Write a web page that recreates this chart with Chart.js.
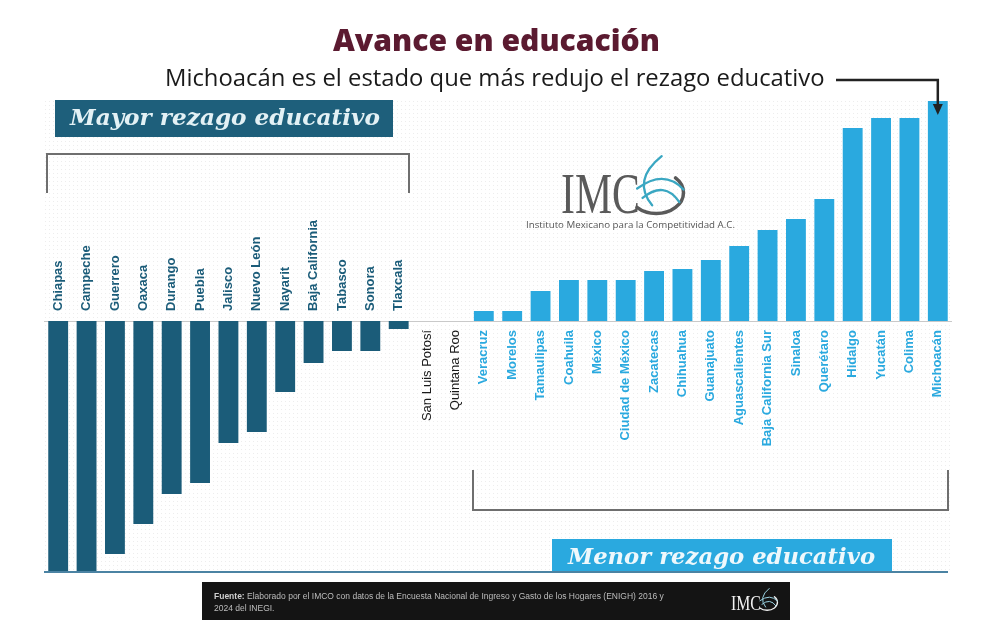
<!DOCTYPE html>
<html>
<head>
<meta charset="utf-8">
<script src="https://cdn.jsdelivr.net/npm/chart.js@4.4.1/dist/chart.umd.min.js"></script>
<style>
  html, body { margin: 0; padding: 0; background: #ffffff; }
  #wrap { width: 1006px; height: 620px; }
</style>
</head>
<body>
<div id="wrap"><canvas id="myChart" width="1006" height="620"></canvas></div>
<script>
// states ordered as in the graphic (left: more lag, right: less lag)
const states = [
  'Chiapas', 'Campeche', 'Guerrero', 'Oaxaca', 'Durango', 'Puebla', 'Jalisco',
  'Nuevo León', 'Nayarit', 'Baja California', 'Tabasco', 'Sonora', 'Tlaxcala',
  'San Luis Potosí', 'Quintana Roo',
  'Veracruz', 'Morelos', 'Tamaulipas', 'Coahuila', 'México', 'Ciudad de México',
  'Zacatecas', 'Chihuahua', 'Guanajuato', 'Aguascalientes', 'Baja California Sur',
  'Sinaloa', 'Querétaro', 'Hidalgo', 'Yucatán', 'Colima', 'Michoacán'
];

// relative change (no axis in the original)
const values = [
  -250, -250, -233, -203, -173, -162, -122,
  -111, -71, -42, -30, -30, -8,
  0, 0,
  10, 10, 30, 41, 41, 41,
  50, 52, 61, 75, 91,
  102, 122, 193, 203, 203, 220
];

const yMin = -250;
const yMax = 221;

const darkTeal = '#1b5c79';
const lightBlue = '#2aa9df';

const canvas = document.getElementById('myChart');
const ctx = canvas.getContext('2d');

function fitFont(c, text, style, family, width) {
    c.font = style + ' 100px ' + family;
    const w = c.measureText(text).width;
    return style + ' ' + (100 * width / w).toFixed(2) + 'px ' + family;
}

function drawLogo(c, x, y, h, textColor, swooshColor) {
    // "IMC" in a tall serif plus a swoosh "O"
    c.save();
    c.fillStyle = textColor;
    c.font = h + 'px "Liberation Serif"';
    c.textBaseline = 'alphabetic';
    c.textAlign = 'left';
    const w = c.measureText('IMC').width;
    const target = h * 1.36;
    c.translate(x, y);
    c.scale(target / w, 1);
    c.fillText('IMC', 0, 0);
    c.restore();

    const rx = h * 0.47;
    const ry = h * 0.36;
    const cx = x + target + rx * 0.6;
    const cy = y - h * 0.35;
    c.save();
    c.lineCap = 'round';
    // gray right/bottom part of the O
    c.strokeStyle = textColor;
    c.lineWidth = Math.max(1, h * 0.06);
    c.beginPath();
    c.ellipse(cx, cy, rx, ry, 0, -Math.PI * 0.25, Math.PI * 0.75);
    c.stroke();
    // teal swooshes
    c.strokeStyle = swooshColor;
    c.lineWidth = Math.max(1, h * 0.04);
    c.beginPath();
    c.moveTo(cx + rx * 0.2, cy - ry * 1.75);
    c.quadraticCurveTo(cx - rx * 0.9, cy - ry * 0.6, cx - rx * 0.15, cy + ry * 0.6);
    c.stroke();
    c.beginPath();
    c.moveTo(cx - rx * 0.7, cy - ry * 0.2);
    c.quadraticCurveTo(cx + rx * 0.3, cy - ry * 1.15, cx + rx * 1.0, cy - ry * 0.15);
    c.stroke();
    c.beginPath();
    c.moveTo(cx - rx * 0.5, cy + ry * 0.25);
    c.quadraticCurveTo(cx + rx * 0.3, cy - ry * 0.6, cx + rx * 0.85, cy + ry * 0.45);
    c.stroke();
    c.restore();
}

const decorations = {
    id: 'decorations',
    beforeDraw(chart) {
        const c = chart.ctx;
        const a = chart.chartArea;
        // faint dotted background
        const pc = document.createElement('canvas');
        pc.width = 4; pc.height = 4;
        const p = pc.getContext('2d');
        p.fillStyle = 'rgba(0,0,0,0.07)';
        p.fillRect(1, 1, 1, 1);
        c.save();
        c.fillStyle = c.createPattern(pc, 'repeat');
        c.fillRect(a.left, a.top, a.right - a.left - 2, a.bottom - a.top);
        c.restore();

        // zero line
        const y0 = chart.scales.y.getPixelForValue(0);
        c.save();
        c.strokeStyle = '#c9c9c9';
        c.lineWidth = 1;
        c.beginPath();
        c.moveTo(a.left, y0 + 0.5);
        c.lineTo(a.right, y0 + 0.5);
        c.stroke();
        c.restore();
    },
    afterDatasetsDraw(chart) {
        const c = chart.ctx;
        const a = chart.chartArea;
        const xs = chart.scales.x;
        const y0 = chart.scales.y.getPixelForValue(0);

        // state labels, rotated
        states.forEach((name, i) => {
            const v = values[i];
            const x = xs.getPixelForValue(i);
            c.save();
            c.translate(x, 0);
            c.rotate(-Math.PI / 2);
            c.textBaseline = 'middle';
            if (v < 0) {
                c.fillStyle = darkTeal;
                c.font = 'bold 13px "Liberation Sans"';
                c.textAlign = 'left';
                c.fillText(name, -(y0 - 10), 0);
            } else {
                c.fillStyle = v > 0 ? lightBlue : '#1a1a1a';
                c.font = (v > 0 ? 'bold ' : '') + '13px "Liberation Sans"';
                c.textAlign = 'right';
                c.fillText(name, -(y0 + 9), 0);
            }
            c.restore();
        });

        // baseline
        c.save();
        c.strokeStyle = '#4b83a3';
        c.lineWidth = 2;
        c.beginPath();
        c.moveTo(a.left, a.bottom + 1);
        c.lineTo(a.right - 4, a.bottom + 1);
        c.stroke();
        c.restore();

        // title and subtitle
        c.save();
        c.fillStyle = '#5b1a30';
        c.textAlign = 'left';
        c.textBaseline = 'alphabetic';
        c.font = fitFont(c, 'Avance en educación', '800', '"Open Sans"', 327);
        c.fillText('Avance en educación', 333, 51);
        c.fillStyle = '#1a1a1a';
        const sub = 'Michoacán es el estado que más redujo el rezago educativo';
        c.font = fitFont(c, sub, '400', '"Open Sans"', 660);
        c.fillText(sub, 165, 86);
        c.restore();

        // arrow to Michoacán
        const xm = xs.getPixelForValue(states.length - 1);
        c.save();
        c.strokeStyle = '#222222';
        c.fillStyle = '#222222';
        c.lineWidth = 2.5;
        c.beginPath();
        c.moveTo(836, 80);
        c.lineTo(xm, 80);
        c.lineTo(xm, 108);
        c.stroke();
        c.beginPath();
        c.moveTo(xm - 5, 104);
        c.lineTo(xm + 5, 104);
        c.lineTo(xm, 115);
        c.closePath();
        c.fill();
        c.restore();

        // "Mayor rezago educativo" box
        c.save();
        c.fillStyle = '#1e5f7b';
        c.fillRect(55, 100, 338, 37);
        c.fillStyle = '#e3f1f5';
        c.textAlign = 'left';
        c.textBaseline = 'alphabetic';
        c.font = fitFont(c, 'Mayor rezago educativo', 'italic bold', '"DejaVu Serif"', 310);
        c.fillText('Mayor rezago educativo', 70, 125);
        c.restore();

        // brackets
        c.save();
        c.strokeStyle = '#6f6f6f';
        c.lineWidth = 2;
        c.beginPath();
        c.moveTo(47, 193);
        c.lineTo(47, 154);
        c.lineTo(409, 154);
        c.lineTo(409, 193);
        c.stroke();
        c.beginPath();
        c.moveTo(473, 470);
        c.lineTo(473, 510);
        c.lineTo(948, 510);
        c.lineTo(948, 470);
        c.stroke();
        c.restore();

        // "Menor rezago educativo" box
        c.save();
        c.fillStyle = '#2aa9df';
        c.fillRect(552, 539, 340, 32);
        c.fillStyle = '#eef8fc';
        c.textAlign = 'left';
        c.textBaseline = 'alphabetic';
        c.font = fitFont(c, 'Menor rezago educativo', 'italic bold', '"DejaVu Serif"', 307);
        c.fillText('Menor rezago educativo', 568, 564);
        c.restore();

        // IMCO watermark logo
        drawLogo(c, 561, 213, 58, '#5a5a5a', '#3aa7c2');
        c.save();
        c.fillStyle = '#555555';
        c.textAlign = 'left';
        c.textBaseline = 'alphabetic';
        const inst = 'Instituto Mexicano para la Competitividad A.C.';
        c.font = fitFont(c, inst, '400', '"Open Sans"', 209);
        c.fillText(inst, 526, 228);
        c.restore();

        // footer
        c.save();
        c.fillStyle = '#141414';
        c.fillRect(202, 582, 588, 38);
        c.textAlign = 'left';
        c.textBaseline = 'alphabetic';
        c.font = 'bold 8.5px "Liberation Sans"';
        c.fillStyle = '#d0d0d0';
        c.fillText('Fuente:', 214, 599);
        const fw = c.measureText('Fuente: ').width;
        c.font = '8.5px "Liberation Sans"';
        c.fillStyle = '#bdbdbd';
        c.fillText('Elaborado por el IMCO con datos de la Encuesta Nacional de Ingreso y Gasto de los Hogares (ENIGH) 2016 y', 214 + fw, 599);
        c.fillText('2024 del INEGI.', 214, 611);
        c.restore();
        drawLogo(c, 731, 610, 22, '#f2f2f2', '#9ad3e3');
    }
};

const myChart = new Chart(ctx, {
    type: 'bar',
    data: {
        labels: states,
        datasets: [{
            label: 'Avance en educación',
            data: values,
            backgroundColor: (context) => context.raw < 0 ? darkTeal : lightBlue,
            borderWidth: 0,
            barPercentage: 0.7,
            categoryPercentage: 1
        }]
    },
    options: {
        responsive: false,
        animation: false,
        layout: {
            padding: { left: 44, right: 54, top: 100, bottom: 49 }
        },
        scales: {
            x: { display: false },
            y: { display: false, min: yMin, max: yMax }
        },
        plugins: {
            legend: { display: false },
            tooltip: { enabled: false },
            title: { display: false }
        }
    },
    plugins: [decorations]
});
</script>
</body>
</html>
